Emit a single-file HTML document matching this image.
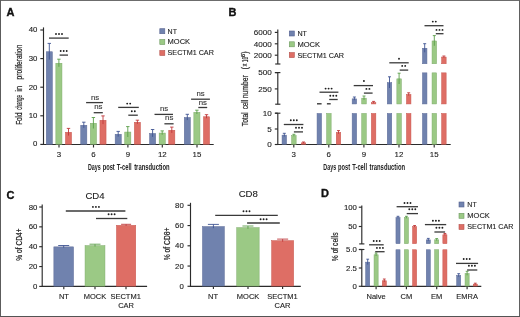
<!DOCTYPE html>
<html><head><meta charset="utf-8"><style>
html,body{margin:0;padding:0;background:#fff;}
#fig{position:relative;width:520px;height:317px;overflow:hidden;background:#fff;}
svg{position:absolute;left:0;top:0;will-change:transform;}
svg text{font-family:"Liberation Sans",sans-serif;}
</style></head><body>
<div id="fig">
<svg width="520" height="317" viewBox="0 0 520 317">
<text x="6.6" y="15.8" font-size="11" text-anchor="start" font-weight="bold" fill="#111" stroke="#111" stroke-width="0.35" >A</text>
<line x1="43.50" y1="27.40" x2="43.50" y2="145.00" stroke="#2b2b2b" stroke-width="1.15"/>
<line x1="43.00" y1="144.50" x2="213.70" y2="144.50" stroke="#2b2b2b" stroke-width="1.15"/>
<line x1="40.30" y1="144.40" x2="43.50" y2="144.40" stroke="#2b2b2b" stroke-width="1.15"/>
<text x="37.4" y="146.10" font-size="7.8" text-anchor="end" font-weight="normal" fill="#222" stroke="#222" stroke-width="0.12" >0</text>
<line x1="40.30" y1="115.80" x2="43.50" y2="115.80" stroke="#2b2b2b" stroke-width="1.15"/>
<text x="37.4" y="118.25" font-size="7.8" text-anchor="end" font-weight="normal" fill="#222" stroke="#222" stroke-width="0.12" >10</text>
<line x1="40.30" y1="87.20" x2="43.50" y2="87.20" stroke="#2b2b2b" stroke-width="1.15"/>
<text x="37.4" y="89.65" font-size="7.8" text-anchor="end" font-weight="normal" fill="#222" stroke="#222" stroke-width="0.12" >20</text>
<line x1="40.30" y1="58.60" x2="43.50" y2="58.60" stroke="#2b2b2b" stroke-width="1.15"/>
<text x="37.4" y="61.05" font-size="7.8" text-anchor="end" font-weight="normal" fill="#222" stroke="#222" stroke-width="0.12" >30</text>
<line x1="40.30" y1="30.00" x2="43.50" y2="30.00" stroke="#2b2b2b" stroke-width="1.15"/>
<text x="37.4" y="32.45" font-size="7.8" text-anchor="end" font-weight="normal" fill="#222" stroke="#222" stroke-width="0.12" >40</text>
<line x1="59.00" y1="144.50" x2="59.00" y2="147.50" stroke="#2b2b2b" stroke-width="1.15"/>
<text x="59.0" y="157.2" font-size="7.9" text-anchor="middle" font-weight="normal" fill="#222" stroke="#222" stroke-width="0.12" >3</text>
<line x1="93.50" y1="144.50" x2="93.50" y2="147.50" stroke="#2b2b2b" stroke-width="1.15"/>
<text x="93.5" y="157.2" font-size="7.9" text-anchor="middle" font-weight="normal" fill="#222" stroke="#222" stroke-width="0.12" >6</text>
<line x1="127.90" y1="144.50" x2="127.90" y2="147.50" stroke="#2b2b2b" stroke-width="1.15"/>
<text x="127.9" y="157.2" font-size="7.9" text-anchor="middle" font-weight="normal" fill="#222" stroke="#222" stroke-width="0.12" >9</text>
<line x1="162.30" y1="144.50" x2="162.30" y2="147.50" stroke="#2b2b2b" stroke-width="1.15"/>
<text x="162.3" y="157.2" font-size="7.9" text-anchor="middle" font-weight="normal" fill="#222" stroke="#222" stroke-width="0.12" >12</text>
<line x1="197.00" y1="144.50" x2="197.00" y2="147.50" stroke="#2b2b2b" stroke-width="1.15"/>
<text x="197.0" y="157.2" font-size="7.9" text-anchor="middle" font-weight="normal" fill="#222" stroke="#222" stroke-width="0.12" >15</text>
<rect x="46.25" y="51.75" width="6.10" height="92.50" fill="#7082ae" stroke="#5d6b98" stroke-width="0.5"/>
<line x1="49.30" y1="43.40" x2="49.30" y2="59.60" stroke="#3f5592" stroke-width="0.9"/>
<line x1="47.60" y1="43.40" x2="51.00" y2="43.40" stroke="#3f5592" stroke-width="0.9"/>
<rect x="55.85" y="63.25" width="6.10" height="81.00" fill="#9bc985" stroke="#7daa68" stroke-width="0.5"/>
<line x1="58.90" y1="59.20" x2="58.90" y2="66.80" stroke="#5a9e48" stroke-width="0.9"/>
<line x1="57.20" y1="59.20" x2="60.60" y2="59.20" stroke="#5a9e48" stroke-width="0.9"/>
<rect x="65.45" y="132.25" width="6.10" height="12.00" fill="#de6e65" stroke="#c8564f" stroke-width="0.5"/>
<line x1="68.50" y1="128.40" x2="68.50" y2="135.60" stroke="#c0383a" stroke-width="0.9"/>
<line x1="66.80" y1="128.40" x2="70.20" y2="128.40" stroke="#c0383a" stroke-width="0.9"/>
<rect x="80.75" y="125.25" width="6.10" height="19.00" fill="#7082ae" stroke="#5d6b98" stroke-width="0.5"/>
<line x1="83.80" y1="122.20" x2="83.80" y2="127.80" stroke="#3f5592" stroke-width="0.9"/>
<line x1="82.10" y1="122.20" x2="85.50" y2="122.20" stroke="#3f5592" stroke-width="0.9"/>
<rect x="90.35" y="123.25" width="6.10" height="21.00" fill="#9bc985" stroke="#7daa68" stroke-width="0.5"/>
<line x1="93.40" y1="117.50" x2="93.40" y2="128.50" stroke="#5a9e48" stroke-width="0.9"/>
<line x1="91.70" y1="117.50" x2="95.10" y2="117.50" stroke="#5a9e48" stroke-width="0.9"/>
<rect x="99.95" y="120.25" width="6.10" height="24.00" fill="#de6e65" stroke="#c8564f" stroke-width="0.5"/>
<line x1="103.00" y1="115.90" x2="103.00" y2="124.10" stroke="#c0383a" stroke-width="0.9"/>
<line x1="101.30" y1="115.90" x2="104.70" y2="115.90" stroke="#c0383a" stroke-width="0.9"/>
<rect x="115.15" y="134.25" width="6.10" height="10.00" fill="#7082ae" stroke="#5d6b98" stroke-width="0.5"/>
<line x1="118.20" y1="131.40" x2="118.20" y2="136.60" stroke="#3f5592" stroke-width="0.9"/>
<line x1="116.50" y1="131.40" x2="119.90" y2="131.40" stroke="#3f5592" stroke-width="0.9"/>
<rect x="124.75" y="132.05" width="6.10" height="12.20" fill="#9bc985" stroke="#7daa68" stroke-width="0.5"/>
<line x1="127.80" y1="126.60" x2="127.80" y2="137.00" stroke="#5a9e48" stroke-width="0.9"/>
<line x1="126.10" y1="126.60" x2="129.50" y2="126.60" stroke="#5a9e48" stroke-width="0.9"/>
<rect x="134.35" y="122.25" width="6.10" height="22.00" fill="#de6e65" stroke="#c8564f" stroke-width="0.5"/>
<line x1="137.40" y1="120.20" x2="137.40" y2="123.80" stroke="#c0383a" stroke-width="0.9"/>
<line x1="135.70" y1="120.20" x2="139.10" y2="120.20" stroke="#c0383a" stroke-width="0.9"/>
<rect x="149.55" y="133.45" width="6.10" height="10.80" fill="#7082ae" stroke="#5d6b98" stroke-width="0.5"/>
<line x1="152.60" y1="129.50" x2="152.60" y2="136.90" stroke="#3f5592" stroke-width="0.9"/>
<line x1="150.90" y1="129.50" x2="154.30" y2="129.50" stroke="#3f5592" stroke-width="0.9"/>
<rect x="159.15" y="133.05" width="6.10" height="11.20" fill="#9bc985" stroke="#7daa68" stroke-width="0.5"/>
<line x1="162.20" y1="130.90" x2="162.20" y2="134.70" stroke="#5a9e48" stroke-width="0.9"/>
<line x1="160.50" y1="130.90" x2="163.90" y2="130.90" stroke="#5a9e48" stroke-width="0.9"/>
<rect x="168.75" y="130.25" width="6.10" height="14.00" fill="#de6e65" stroke="#c8564f" stroke-width="0.5"/>
<line x1="171.80" y1="127.10" x2="171.80" y2="132.90" stroke="#c0383a" stroke-width="0.9"/>
<line x1="170.10" y1="127.10" x2="173.50" y2="127.10" stroke="#c0383a" stroke-width="0.9"/>
<rect x="184.25" y="117.45" width="6.10" height="26.80" fill="#7082ae" stroke="#5d6b98" stroke-width="0.5"/>
<line x1="187.30" y1="114.30" x2="187.30" y2="120.10" stroke="#3f5592" stroke-width="0.9"/>
<line x1="185.60" y1="114.30" x2="189.00" y2="114.30" stroke="#3f5592" stroke-width="0.9"/>
<rect x="193.85" y="112.35" width="6.10" height="31.90" fill="#9bc985" stroke="#7daa68" stroke-width="0.5"/>
<line x1="196.90" y1="110.20" x2="196.90" y2="114.00" stroke="#5a9e48" stroke-width="0.9"/>
<line x1="195.20" y1="110.20" x2="198.60" y2="110.20" stroke="#5a9e48" stroke-width="0.9"/>
<rect x="203.45" y="116.75" width="6.10" height="27.50" fill="#de6e65" stroke="#c8564f" stroke-width="0.5"/>
<line x1="206.50" y1="114.70" x2="206.50" y2="118.30" stroke="#c0383a" stroke-width="0.9"/>
<line x1="204.80" y1="114.70" x2="208.20" y2="114.70" stroke="#c0383a" stroke-width="0.9"/>
<line x1="49.00" y1="38.10" x2="68.70" y2="38.10" stroke="#3a3a3a" stroke-width="1.3"/>
<circle cx="56.00" cy="34.00" r="0.95" fill="#1e1e1e"/>
<circle cx="59.00" cy="34.00" r="0.95" fill="#1e1e1e"/>
<circle cx="62.00" cy="34.00" r="0.95" fill="#1e1e1e"/>
<line x1="59.60" y1="55.10" x2="68.00" y2="55.10" stroke="#3a3a3a" stroke-width="1.3"/>
<circle cx="60.70" cy="51.00" r="0.95" fill="#1e1e1e"/>
<circle cx="63.70" cy="51.00" r="0.95" fill="#1e1e1e"/>
<circle cx="66.70" cy="51.00" r="0.95" fill="#1e1e1e"/>
<line x1="86.10" y1="102.60" x2="103.00" y2="102.60" stroke="#3a3a3a" stroke-width="1.3"/>
<text x="95.1" y="99.6" font-size="7.8" text-anchor="middle" font-weight="normal" fill="#333" stroke="#333" stroke-width="0.12" >ns</text>
<line x1="93.70" y1="112.70" x2="102.80" y2="112.70" stroke="#3a3a3a" stroke-width="1.3"/>
<text x="98.4" y="109.2" font-size="7.8" text-anchor="middle" font-weight="normal" fill="#333" stroke="#333" stroke-width="0.12" >ns</text>
<line x1="118.20" y1="107.40" x2="138.80" y2="107.40" stroke="#3a3a3a" stroke-width="1.3"/>
<circle cx="127.20" cy="103.60" r="0.95" fill="#1e1e1e"/>
<circle cx="130.20" cy="103.60" r="0.95" fill="#1e1e1e"/>
<line x1="128.30" y1="115.20" x2="137.80" y2="115.20" stroke="#3a3a3a" stroke-width="1.3"/>
<circle cx="131.80" cy="111.20" r="0.95" fill="#1e1e1e"/>
<circle cx="134.80" cy="111.20" r="0.95" fill="#1e1e1e"/>
<line x1="154.50" y1="114.40" x2="173.00" y2="114.40" stroke="#3a3a3a" stroke-width="1.3"/>
<text x="164.1" y="110.8" font-size="7.8" text-anchor="middle" font-weight="normal" fill="#333" stroke="#333" stroke-width="0.12" >ns</text>
<line x1="164.40" y1="123.80" x2="173.60" y2="123.80" stroke="#3a3a3a" stroke-width="1.3"/>
<text x="169.2" y="119.7" font-size="7.8" text-anchor="middle" font-weight="normal" fill="#333" stroke="#333" stroke-width="0.12" >ns</text>
<line x1="191.10" y1="99.20" x2="209.90" y2="99.20" stroke="#3a3a3a" stroke-width="1.3"/>
<text x="200.5" y="95.8" font-size="7.8" text-anchor="middle" font-weight="normal" fill="#333" stroke="#333" stroke-width="0.12" >ns</text>
<line x1="198.30" y1="107.50" x2="207.20" y2="107.50" stroke="#3a3a3a" stroke-width="1.3"/>
<text x="202.8" y="105.0" font-size="7.8" text-anchor="middle" font-weight="normal" fill="#333" stroke="#333" stroke-width="0.12" >ns</text>
<rect x="159.80" y="28.70" width="5.00" height="5.00" fill="#7082ae" stroke="#56628f" stroke-width="0.6"/>
<text x="167.55" y="33.60" font-size="7.4" fill="#222" stroke="#222" stroke-width="0.12" textLength="9.40" lengthAdjust="spacingAndGlyphs">NT</text>
<rect x="159.80" y="39.50" width="5.00" height="5.00" fill="#9bc985" stroke="#6f9a62" stroke-width="0.6"/>
<text x="167.55" y="44.40" font-size="7.4" fill="#222" stroke="#222" stroke-width="0.12" textLength="22.60" lengthAdjust="spacingAndGlyphs">MOCK</text>
<rect x="159.80" y="50.50" width="5.00" height="5.00" fill="#de6e65" stroke="#b4524d" stroke-width="0.6"/>
<text x="167.55" y="55.40" font-size="7.4" fill="#222" stroke="#222" stroke-width="0.12" textLength="46.30" lengthAdjust="spacingAndGlyphs">SECTM1 CAR</text>
<text x="87.95" y="170.2" font-size="8.4" font-weight="bold" stroke="#222" stroke-width="0.0" textLength="12.80" lengthAdjust="spacingAndGlyphs" fill="#222">Days</text>
<text x="102.65" y="170.2" font-size="8.4" font-weight="bold" stroke="#222" stroke-width="0.0" textLength="12.10" lengthAdjust="spacingAndGlyphs" fill="#222">post</text>
<text x="116.85" y="170.2" font-size="8.4" font-weight="bold" stroke="#222" stroke-width="0.0" textLength="14.80" lengthAdjust="spacingAndGlyphs" fill="#222">T-cell</text>
<text x="134.15" y="170.2" font-size="8.4" font-weight="bold" stroke="#222" stroke-width="0.0" textLength="35.50" lengthAdjust="spacingAndGlyphs" fill="#222">transduction</text>
<text transform="translate(22.1,124.85) rotate(-90)" x="0" y="0" font-size="8.4" font-weight="normal" stroke="#222" stroke-width="0.2" textLength="12.40" lengthAdjust="spacingAndGlyphs" fill="#222">Fold</text>
<text transform="translate(22.1,109.85) rotate(-90)" x="0" y="0" font-size="8.4" font-weight="normal" stroke="#222" stroke-width="0.2" textLength="15.00" lengthAdjust="spacingAndGlyphs" fill="#222">change</text>
<text transform="translate(22.1,91.75) rotate(-90)" x="0" y="0" font-size="8.4" font-weight="normal" stroke="#222" stroke-width="0.2" textLength="6.10" lengthAdjust="spacingAndGlyphs" fill="#222">in</text>
<text transform="translate(22.1,79.45) rotate(-90)" x="0" y="0" font-size="8.4" font-weight="normal" stroke="#222" stroke-width="0.2" textLength="34.80" lengthAdjust="spacingAndGlyphs" fill="#222">proliferation</text>
<text x="228.6" y="15.8" font-size="11" text-anchor="start" font-weight="bold" fill="#111" stroke="#111" stroke-width="0.35" >B</text>
<line x1="277.80" y1="29.40" x2="277.80" y2="64.00" stroke="#2b2b2b" stroke-width="1.15"/>
<line x1="275.20" y1="64.00" x2="280.40" y2="64.00" stroke="#2b2b2b" stroke-width="1.15"/>
<line x1="277.80" y1="72.60" x2="277.80" y2="104.20" stroke="#2b2b2b" stroke-width="1.15"/>
<line x1="275.20" y1="72.60" x2="280.40" y2="72.60" stroke="#2b2b2b" stroke-width="1.15"/>
<line x1="275.20" y1="104.20" x2="280.40" y2="104.20" stroke="#2b2b2b" stroke-width="1.15"/>
<line x1="277.80" y1="113.20" x2="277.80" y2="145.00" stroke="#2b2b2b" stroke-width="1.15"/>
<line x1="275.20" y1="113.20" x2="280.40" y2="113.20" stroke="#2b2b2b" stroke-width="1.15"/>
<line x1="277.30" y1="144.50" x2="450.70" y2="144.50" stroke="#2b2b2b" stroke-width="1.15"/>
<line x1="274.80" y1="32.40" x2="277.80" y2="32.40" stroke="#2b2b2b" stroke-width="1.15"/>
<text x="271.7" y="35.20" font-size="8.1" text-anchor="end" font-weight="normal" fill="#222" stroke="#222" stroke-width="0.12" >6000</text>
<line x1="274.80" y1="43.80" x2="277.80" y2="43.80" stroke="#2b2b2b" stroke-width="1.15"/>
<text x="271.7" y="46.60" font-size="8.1" text-anchor="end" font-weight="normal" fill="#222" stroke="#222" stroke-width="0.12" >4000</text>
<line x1="274.80" y1="55.20" x2="277.80" y2="55.20" stroke="#2b2b2b" stroke-width="1.15"/>
<text x="271.7" y="58.00" font-size="8.1" text-anchor="end" font-weight="normal" fill="#222" stroke="#222" stroke-width="0.12" >2000</text>
<line x1="274.80" y1="72.60" x2="277.80" y2="72.60" stroke="#2b2b2b" stroke-width="1.15"/>
<text x="271.7" y="75.40" font-size="8.1" text-anchor="end" font-weight="normal" fill="#222" stroke="#222" stroke-width="0.12" >500</text>
<line x1="274.80" y1="88.90" x2="277.80" y2="88.90" stroke="#2b2b2b" stroke-width="1.15"/>
<text x="271.7" y="91.70" font-size="8.1" text-anchor="end" font-weight="normal" fill="#222" stroke="#222" stroke-width="0.12" >250</text>
<line x1="274.80" y1="113.20" x2="277.80" y2="113.20" stroke="#2b2b2b" stroke-width="1.15"/>
<text x="271.7" y="116.00" font-size="8.1" text-anchor="end" font-weight="normal" fill="#222" stroke="#222" stroke-width="0.12" >10</text>
<line x1="274.80" y1="129.00" x2="277.80" y2="129.00" stroke="#2b2b2b" stroke-width="1.15"/>
<text x="271.7" y="131.80" font-size="8.1" text-anchor="end" font-weight="normal" fill="#222" stroke="#222" stroke-width="0.12" >5</text>
<line x1="274.80" y1="144.50" x2="277.80" y2="144.50" stroke="#2b2b2b" stroke-width="1.15"/>
<text x="271.7" y="147.30" font-size="8.1" text-anchor="end" font-weight="normal" fill="#222" stroke="#222" stroke-width="0.12" >0</text>
<line x1="293.80" y1="144.50" x2="293.80" y2="147.50" stroke="#2b2b2b" stroke-width="1.15"/>
<text x="293.8" y="157.2" font-size="7.9" text-anchor="middle" font-weight="normal" fill="#222" stroke="#222" stroke-width="0.12" >3</text>
<line x1="328.80" y1="144.50" x2="328.80" y2="147.50" stroke="#2b2b2b" stroke-width="1.15"/>
<text x="328.8" y="157.2" font-size="7.9" text-anchor="middle" font-weight="normal" fill="#222" stroke="#222" stroke-width="0.12" >6</text>
<line x1="363.90" y1="144.50" x2="363.90" y2="147.50" stroke="#2b2b2b" stroke-width="1.15"/>
<text x="363.9" y="157.2" font-size="7.9" text-anchor="middle" font-weight="normal" fill="#222" stroke="#222" stroke-width="0.12" >9</text>
<line x1="399.00" y1="144.50" x2="399.00" y2="147.50" stroke="#2b2b2b" stroke-width="1.15"/>
<text x="399.0" y="157.2" font-size="7.9" text-anchor="middle" font-weight="normal" fill="#222" stroke="#222" stroke-width="0.12" >12</text>
<line x1="434.20" y1="144.50" x2="434.20" y2="147.50" stroke="#2b2b2b" stroke-width="1.15"/>
<text x="434.2" y="157.2" font-size="7.9" text-anchor="middle" font-weight="normal" fill="#222" stroke="#222" stroke-width="0.12" >15</text>
<rect x="282.05" y="135.15" width="4.50" height="9.10" fill="#7082ae" stroke="#5d6b98" stroke-width="0.5"/>
<line x1="284.30" y1="133.30" x2="284.30" y2="136.50" stroke="#3f5592" stroke-width="0.9"/>
<line x1="282.80" y1="133.30" x2="285.80" y2="133.30" stroke="#3f5592" stroke-width="0.9"/>
<rect x="291.65" y="135.55" width="4.50" height="8.70" fill="#9bc985" stroke="#7daa68" stroke-width="0.5"/>
<line x1="293.90" y1="134.30" x2="293.90" y2="136.30" stroke="#5a9e48" stroke-width="0.9"/>
<line x1="292.40" y1="134.30" x2="295.40" y2="134.30" stroke="#5a9e48" stroke-width="0.9"/>
<rect x="301.25" y="142.85" width="4.50" height="1.40" fill="#de6e65" stroke="#c8564f" stroke-width="0.5"/>
<line x1="303.50" y1="142.00" x2="303.50" y2="143.20" stroke="#c0383a" stroke-width="0.9"/>
<line x1="302.00" y1="142.00" x2="305.00" y2="142.00" stroke="#c0383a" stroke-width="0.9"/>
<rect x="317.05" y="113.45" width="4.50" height="30.80" fill="#7082ae" stroke="#5d6b98" stroke-width="0.5"/>
<rect x="326.65" y="113.45" width="4.50" height="30.80" fill="#9bc985" stroke="#7daa68" stroke-width="0.5"/>
<rect x="336.25" y="132.45" width="4.50" height="11.80" fill="#de6e65" stroke="#c8564f" stroke-width="0.5"/>
<line x1="338.50" y1="130.60" x2="338.50" y2="133.80" stroke="#c0383a" stroke-width="0.9"/>
<line x1="337.00" y1="130.60" x2="340.00" y2="130.60" stroke="#c0383a" stroke-width="0.9"/>
<rect x="352.15" y="113.45" width="4.50" height="30.80" fill="#7082ae" stroke="#5d6b98" stroke-width="0.5"/>
<rect x="352.15" y="98.85" width="4.50" height="5.10" fill="#7082ae" stroke="#5d6b98" stroke-width="0.5"/>
<line x1="354.40" y1="97.00" x2="354.40" y2="100.20" stroke="#3f5592" stroke-width="0.9"/>
<line x1="352.90" y1="97.00" x2="355.90" y2="97.00" stroke="#3f5592" stroke-width="0.9"/>
<rect x="361.75" y="113.45" width="4.50" height="30.80" fill="#9bc985" stroke="#7daa68" stroke-width="0.5"/>
<rect x="361.75" y="98.15" width="4.50" height="5.80" fill="#9bc985" stroke="#7daa68" stroke-width="0.5"/>
<line x1="364.00" y1="96.00" x2="364.00" y2="99.80" stroke="#5a9e48" stroke-width="0.9"/>
<line x1="362.50" y1="96.00" x2="365.50" y2="96.00" stroke="#5a9e48" stroke-width="0.9"/>
<rect x="371.35" y="113.45" width="4.50" height="30.80" fill="#de6e65" stroke="#c8564f" stroke-width="0.5"/>
<rect x="371.35" y="102.55" width="4.50" height="1.40" fill="#de6e65" stroke="#c8564f" stroke-width="0.5"/>
<line x1="373.60" y1="101.40" x2="373.60" y2="103.20" stroke="#c0383a" stroke-width="0.9"/>
<line x1="372.10" y1="101.40" x2="375.10" y2="101.40" stroke="#c0383a" stroke-width="0.9"/>
<rect x="387.25" y="113.45" width="4.50" height="30.80" fill="#7082ae" stroke="#5d6b98" stroke-width="0.5"/>
<rect x="387.25" y="82.65" width="4.50" height="21.30" fill="#7082ae" stroke="#5d6b98" stroke-width="0.5"/>
<line x1="389.50" y1="76.80" x2="389.50" y2="88.00" stroke="#3f5592" stroke-width="0.9"/>
<line x1="388.00" y1="76.80" x2="391.00" y2="76.80" stroke="#3f5592" stroke-width="0.9"/>
<rect x="396.85" y="113.45" width="4.50" height="30.80" fill="#9bc985" stroke="#7daa68" stroke-width="0.5"/>
<rect x="396.85" y="78.85" width="4.50" height="25.10" fill="#9bc985" stroke="#7daa68" stroke-width="0.5"/>
<line x1="399.10" y1="73.20" x2="399.10" y2="84.00" stroke="#5a9e48" stroke-width="0.9"/>
<line x1="397.60" y1="73.20" x2="400.60" y2="73.20" stroke="#5a9e48" stroke-width="0.9"/>
<rect x="406.45" y="113.45" width="4.50" height="30.80" fill="#de6e65" stroke="#c8564f" stroke-width="0.5"/>
<rect x="406.45" y="94.45" width="4.50" height="9.50" fill="#de6e65" stroke="#c8564f" stroke-width="0.5"/>
<line x1="408.70" y1="92.80" x2="408.70" y2="95.60" stroke="#c0383a" stroke-width="0.9"/>
<line x1="407.20" y1="92.80" x2="410.20" y2="92.80" stroke="#c0383a" stroke-width="0.9"/>
<rect x="422.45" y="113.45" width="4.50" height="30.80" fill="#7082ae" stroke="#5d6b98" stroke-width="0.5"/>
<rect x="422.45" y="72.85" width="4.50" height="31.10" fill="#7082ae" stroke="#5d6b98" stroke-width="0.5"/>
<rect x="422.45" y="48.25" width="4.50" height="15.50" fill="#7082ae" stroke="#5d6b98" stroke-width="0.5"/>
<line x1="424.70" y1="43.70" x2="424.70" y2="52.30" stroke="#3f5592" stroke-width="0.9"/>
<line x1="423.20" y1="43.70" x2="426.20" y2="43.70" stroke="#3f5592" stroke-width="0.9"/>
<rect x="432.05" y="113.45" width="4.50" height="30.80" fill="#9bc985" stroke="#7daa68" stroke-width="0.5"/>
<rect x="432.05" y="72.85" width="4.50" height="31.10" fill="#9bc985" stroke="#7daa68" stroke-width="0.5"/>
<rect x="432.05" y="40.95" width="4.50" height="22.80" fill="#9bc985" stroke="#7daa68" stroke-width="0.5"/>
<line x1="434.30" y1="35.60" x2="434.30" y2="45.80" stroke="#5a9e48" stroke-width="0.9"/>
<line x1="432.80" y1="35.60" x2="435.80" y2="35.60" stroke="#5a9e48" stroke-width="0.9"/>
<rect x="441.65" y="113.45" width="4.50" height="30.80" fill="#de6e65" stroke="#c8564f" stroke-width="0.5"/>
<rect x="441.65" y="72.85" width="4.50" height="31.10" fill="#de6e65" stroke="#c8564f" stroke-width="0.5"/>
<rect x="441.65" y="57.05" width="4.50" height="6.70" fill="#de6e65" stroke="#c8564f" stroke-width="0.5"/>
<line x1="443.90" y1="56.00" x2="443.90" y2="57.60" stroke="#c0383a" stroke-width="0.9"/>
<line x1="442.40" y1="56.00" x2="445.40" y2="56.00" stroke="#c0383a" stroke-width="0.9"/>
<rect x="317.0" y="103.1" width="4.6" height="1.4" fill="#3a3a3a"/>
<rect x="326.9" y="103.1" width="3.8" height="1.4" fill="#3a3a3a"/>
<line x1="283.80" y1="124.50" x2="303.40" y2="124.50" stroke="#3a3a3a" stroke-width="1.3"/>
<circle cx="290.80" cy="120.30" r="0.95" fill="#1e1e1e"/>
<circle cx="293.80" cy="120.30" r="0.95" fill="#1e1e1e"/>
<circle cx="296.80" cy="120.30" r="0.95" fill="#1e1e1e"/>
<line x1="293.90" y1="131.90" x2="303.00" y2="131.90" stroke="#3a3a3a" stroke-width="1.3"/>
<circle cx="296.00" cy="127.70" r="0.95" fill="#1e1e1e"/>
<circle cx="299.00" cy="127.70" r="0.95" fill="#1e1e1e"/>
<circle cx="302.00" cy="127.70" r="0.95" fill="#1e1e1e"/>
<line x1="319.50" y1="92.20" x2="338.40" y2="92.20" stroke="#3a3a3a" stroke-width="1.3"/>
<circle cx="325.60" cy="88.60" r="0.95" fill="#1e1e1e"/>
<circle cx="328.60" cy="88.60" r="0.95" fill="#1e1e1e"/>
<circle cx="331.60" cy="88.60" r="0.95" fill="#1e1e1e"/>
<line x1="329.20" y1="99.50" x2="337.70" y2="99.50" stroke="#3a3a3a" stroke-width="1.3"/>
<circle cx="330.30" cy="95.80" r="0.95" fill="#1e1e1e"/>
<circle cx="333.30" cy="95.80" r="0.95" fill="#1e1e1e"/>
<circle cx="336.30" cy="95.80" r="0.95" fill="#1e1e1e"/>
<line x1="353.70" y1="85.60" x2="373.00" y2="85.60" stroke="#3a3a3a" stroke-width="1.3"/>
<circle cx="363.90" cy="81.00" r="0.95" fill="#1e1e1e"/>
<line x1="363.90" y1="93.10" x2="372.60" y2="93.10" stroke="#3a3a3a" stroke-width="1.3"/>
<circle cx="366.40" cy="88.90" r="0.95" fill="#1e1e1e"/>
<circle cx="369.40" cy="88.90" r="0.95" fill="#1e1e1e"/>
<line x1="389.30" y1="62.80" x2="408.70" y2="62.80" stroke="#3a3a3a" stroke-width="1.3"/>
<circle cx="399.00" cy="58.70" r="0.95" fill="#1e1e1e"/>
<line x1="399.70" y1="70.10" x2="408.20" y2="70.10" stroke="#3a3a3a" stroke-width="1.3"/>
<circle cx="402.20" cy="65.90" r="0.95" fill="#1e1e1e"/>
<circle cx="405.20" cy="65.90" r="0.95" fill="#1e1e1e"/>
<line x1="424.50" y1="25.70" x2="443.50" y2="25.70" stroke="#3a3a3a" stroke-width="1.3"/>
<circle cx="432.80" cy="21.60" r="0.95" fill="#1e1e1e"/>
<circle cx="435.80" cy="21.60" r="0.95" fill="#1e1e1e"/>
<line x1="435.80" y1="33.70" x2="443.50" y2="33.70" stroke="#3a3a3a" stroke-width="1.3"/>
<circle cx="436.50" cy="29.90" r="0.95" fill="#1e1e1e"/>
<circle cx="439.50" cy="29.90" r="0.95" fill="#1e1e1e"/>
<circle cx="442.50" cy="29.90" r="0.95" fill="#1e1e1e"/>
<rect x="289.30" y="31.00" width="5.00" height="5.00" fill="#7082ae" stroke="#56628f" stroke-width="0.6"/>
<text x="297.45" y="35.90" font-size="7.4" fill="#222" stroke="#222" stroke-width="0.12" textLength="9.50" lengthAdjust="spacingAndGlyphs">NT</text>
<rect x="289.30" y="41.80" width="5.00" height="5.00" fill="#9bc985" stroke="#6f9a62" stroke-width="0.6"/>
<text x="297.45" y="46.70" font-size="7.4" fill="#222" stroke="#222" stroke-width="0.12" textLength="22.70" lengthAdjust="spacingAndGlyphs">MOCK</text>
<rect x="289.30" y="52.60" width="5.00" height="5.00" fill="#de6e65" stroke="#b4524d" stroke-width="0.6"/>
<text x="297.45" y="57.50" font-size="7.4" fill="#222" stroke="#222" stroke-width="0.12" textLength="46.60" lengthAdjust="spacingAndGlyphs">SECTM1 CAR</text>
<text x="323.35" y="170.2" font-size="8.4" font-weight="bold" stroke="#222" stroke-width="0.0" textLength="12.80" lengthAdjust="spacingAndGlyphs" fill="#222">Days</text>
<text x="338.05" y="170.2" font-size="8.4" font-weight="bold" stroke="#222" stroke-width="0.0" textLength="12.10" lengthAdjust="spacingAndGlyphs" fill="#222">post</text>
<text x="352.25" y="170.2" font-size="8.4" font-weight="bold" stroke="#222" stroke-width="0.0" textLength="14.80" lengthAdjust="spacingAndGlyphs" fill="#222">T-cell</text>
<text x="369.55" y="170.2" font-size="8.4" font-weight="bold" stroke="#222" stroke-width="0.0" textLength="35.50" lengthAdjust="spacingAndGlyphs" fill="#222">transduction</text>
<text transform="translate(247.9,126.15) rotate(-90)" x="0" y="0" font-size="8.4" font-weight="normal" stroke="#222" stroke-width="0.2" textLength="13.90" lengthAdjust="spacingAndGlyphs" fill="#222">Total</text>
<text transform="translate(247.9,108.95) rotate(-90)" x="0" y="0" font-size="8.4" font-weight="normal" stroke="#222" stroke-width="0.2" textLength="8.90" lengthAdjust="spacingAndGlyphs" fill="#222">cell</text>
<text transform="translate(247.9,98.25) rotate(-90)" x="0" y="0" font-size="8.4" font-weight="normal" stroke="#222" stroke-width="0.2" textLength="23.00" lengthAdjust="spacingAndGlyphs" fill="#222">number</text>
<text transform="translate(247.9,69.60) rotate(-90)" x="0" y="0" font-size="8.4" font-weight="normal" stroke="#222" stroke-width="0.2" textLength="2.60" lengthAdjust="spacingAndGlyphs" fill="#222">(</text>
<text transform="translate(247.9,66.60) rotate(-90)" x="0" y="0" font-size="8.4" font-weight="normal" stroke="#222" stroke-width="0.2" textLength="3.00" lengthAdjust="spacingAndGlyphs" fill="#222">×</text>
<text transform="translate(247.9,62.20) rotate(-90)" x="0" y="0" font-size="8.4" font-weight="normal" stroke="#222" stroke-width="0.2" textLength="5.50" lengthAdjust="spacingAndGlyphs" fill="#222">10</text>
<text transform="translate(247.9,53.80) rotate(-90)" x="0" y="0" font-size="8.4" font-weight="normal" stroke="#222" stroke-width="0.2" textLength="2.40" lengthAdjust="spacingAndGlyphs" fill="#222">)</text>
<text transform="translate(244.5,57.20) rotate(-90)" x="0" y="0" font-size="5.9" font-weight="normal" stroke="#222" stroke-width="0.2" textLength="3.50" lengthAdjust="spacingAndGlyphs" fill="#222">6</text>
<text x="6.6" y="198.9" font-size="11" text-anchor="start" font-weight="bold" fill="#111" stroke="#111" stroke-width="0.35" >C</text>
<line x1="42.20" y1="204.40" x2="42.20" y2="286.90" stroke="#2b2b2b" stroke-width="1.15"/>
<line x1="41.70" y1="286.40" x2="147.10" y2="286.40" stroke="#2b2b2b" stroke-width="1.15"/>
<line x1="39.20" y1="286.40" x2="42.20" y2="286.40" stroke="#2b2b2b" stroke-width="1.15"/>
<text x="37.4" y="289.00" font-size="7.8" text-anchor="end" font-weight="normal" fill="#222" stroke="#222" stroke-width="0.12" >0</text>
<line x1="39.20" y1="266.55" x2="42.20" y2="266.55" stroke="#2b2b2b" stroke-width="1.15"/>
<text x="37.4" y="269.15" font-size="7.8" text-anchor="end" font-weight="normal" fill="#222" stroke="#222" stroke-width="0.12" >20</text>
<line x1="39.20" y1="246.70" x2="42.20" y2="246.70" stroke="#2b2b2b" stroke-width="1.15"/>
<text x="37.4" y="249.30" font-size="7.8" text-anchor="end" font-weight="normal" fill="#222" stroke="#222" stroke-width="0.12" >40</text>
<line x1="39.20" y1="226.85" x2="42.20" y2="226.85" stroke="#2b2b2b" stroke-width="1.15"/>
<text x="37.4" y="229.45" font-size="7.8" text-anchor="end" font-weight="normal" fill="#222" stroke="#222" stroke-width="0.12" >60</text>
<line x1="39.20" y1="207.00" x2="42.20" y2="207.00" stroke="#2b2b2b" stroke-width="1.15"/>
<text x="37.4" y="209.60" font-size="7.8" text-anchor="end" font-weight="normal" fill="#222" stroke="#222" stroke-width="0.12" >80</text>
<line x1="63.80" y1="286.40" x2="63.80" y2="289.20" stroke="#2b2b2b" stroke-width="1.15"/>
<line x1="95.00" y1="286.40" x2="95.00" y2="289.20" stroke="#2b2b2b" stroke-width="1.15"/>
<line x1="126.00" y1="286.40" x2="126.00" y2="289.20" stroke="#2b2b2b" stroke-width="1.15"/>
<rect x="53.85" y="246.85" width="19.70" height="39.30" fill="#7082ae" stroke="#5d6b98" stroke-width="0.5"/>
<line x1="63.70" y1="245.50" x2="63.70" y2="247.70" stroke="#3f5592" stroke-width="0.9"/>
<line x1="58.20" y1="245.50" x2="69.20" y2="245.50" stroke="#3f5592" stroke-width="0.9"/>
<rect x="85.05" y="245.65" width="19.90" height="40.50" fill="#9bc985" stroke="#7daa68" stroke-width="0.5"/>
<line x1="95.00" y1="244.20" x2="95.00" y2="246.60" stroke="#5a9e48" stroke-width="0.9"/>
<line x1="89.50" y1="244.20" x2="100.50" y2="244.20" stroke="#5a9e48" stroke-width="0.9"/>
<rect x="116.45" y="225.35" width="19.30" height="60.80" fill="#de6e65" stroke="#c8564f" stroke-width="0.5"/>
<line x1="126.10" y1="224.30" x2="126.10" y2="225.90" stroke="#c0383a" stroke-width="0.9"/>
<line x1="121.10" y1="224.30" x2="131.10" y2="224.30" stroke="#c0383a" stroke-width="0.9"/>
<text x="63.9" y="299.3" font-size="7.5" text-anchor="middle" font-weight="normal" fill="#222" stroke="#222" stroke-width="0.12" >NT</text>
<text x="95.0" y="299.3" font-size="7.5" text-anchor="middle" font-weight="normal" fill="#222" stroke="#222" stroke-width="0.12" >MOCK</text>
<text x="125.6" y="299.3" font-size="7.5" text-anchor="middle" font-weight="normal" fill="#222" stroke="#222" stroke-width="0.12" >SECTM1</text>
<text x="126.1" y="307.7" font-size="7.5" text-anchor="middle" font-weight="normal" fill="#222" stroke="#222" stroke-width="0.12" >CAR</text>
<text x="95.0" y="198.8" font-size="9.6" text-anchor="middle" font-weight="normal" fill="#222" stroke="#222" stroke-width="0.12" >CD4</text>
<line x1="65.80" y1="211.00" x2="125.40" y2="211.00" stroke="#3a3a3a" stroke-width="1.3"/>
<circle cx="92.90" cy="206.90" r="0.95" fill="#1e1e1e"/>
<circle cx="95.90" cy="206.90" r="0.95" fill="#1e1e1e"/>
<circle cx="98.90" cy="206.90" r="0.95" fill="#1e1e1e"/>
<line x1="96.00" y1="218.50" x2="127.30" y2="218.50" stroke="#3a3a3a" stroke-width="1.3"/>
<circle cx="108.60" cy="214.20" r="0.95" fill="#1e1e1e"/>
<circle cx="111.60" cy="214.20" r="0.95" fill="#1e1e1e"/>
<circle cx="114.60" cy="214.20" r="0.95" fill="#1e1e1e"/>
<text transform="translate(22.3,260.7) rotate(-90)" x="0" y="0" font-size="8.4" font-weight="normal" stroke="#222" stroke-width="0.2" textLength="32.2" lengthAdjust="spacingAndGlyphs" fill="#222">% of CD4+</text>
<line x1="190.50" y1="202.80" x2="190.50" y2="286.80" stroke="#2b2b2b" stroke-width="1.15"/>
<line x1="190.00" y1="286.30" x2="300.80" y2="286.30" stroke="#2b2b2b" stroke-width="1.15"/>
<line x1="187.50" y1="286.30" x2="190.50" y2="286.30" stroke="#2b2b2b" stroke-width="1.15"/>
<text x="183.8" y="288.90" font-size="7.8" text-anchor="end" font-weight="normal" fill="#222" stroke="#222" stroke-width="0.12" >0</text>
<line x1="187.50" y1="266.05" x2="190.50" y2="266.05" stroke="#2b2b2b" stroke-width="1.15"/>
<text x="183.8" y="268.65" font-size="7.8" text-anchor="end" font-weight="normal" fill="#222" stroke="#222" stroke-width="0.12" >20</text>
<line x1="187.50" y1="245.80" x2="190.50" y2="245.80" stroke="#2b2b2b" stroke-width="1.15"/>
<text x="183.8" y="248.40" font-size="7.8" text-anchor="end" font-weight="normal" fill="#222" stroke="#222" stroke-width="0.12" >40</text>
<line x1="187.50" y1="225.55" x2="190.50" y2="225.55" stroke="#2b2b2b" stroke-width="1.15"/>
<text x="183.8" y="228.15" font-size="7.8" text-anchor="end" font-weight="normal" fill="#222" stroke="#222" stroke-width="0.12" >60</text>
<line x1="187.50" y1="205.30" x2="190.50" y2="205.30" stroke="#2b2b2b" stroke-width="1.15"/>
<text x="183.8" y="207.90" font-size="7.8" text-anchor="end" font-weight="normal" fill="#222" stroke="#222" stroke-width="0.12" >80</text>
<line x1="213.40" y1="286.30" x2="213.40" y2="289.10" stroke="#2b2b2b" stroke-width="1.15"/>
<line x1="248.00" y1="286.30" x2="248.00" y2="289.10" stroke="#2b2b2b" stroke-width="1.15"/>
<line x1="282.60" y1="286.30" x2="282.60" y2="289.10" stroke="#2b2b2b" stroke-width="1.15"/>
<rect x="202.45" y="226.55" width="21.90" height="59.50" fill="#7082ae" stroke="#5d6b98" stroke-width="0.5"/>
<line x1="213.40" y1="224.40" x2="213.40" y2="228.20" stroke="#3f5592" stroke-width="0.9"/>
<line x1="207.90" y1="224.40" x2="218.90" y2="224.40" stroke="#3f5592" stroke-width="0.9"/>
<rect x="236.75" y="227.65" width="22.40" height="58.40" fill="#9bc985" stroke="#7daa68" stroke-width="0.5"/>
<line x1="247.95" y1="226.00" x2="247.95" y2="228.80" stroke="#5a9e48" stroke-width="0.9"/>
<line x1="242.45" y1="226.00" x2="253.45" y2="226.00" stroke="#5a9e48" stroke-width="0.9"/>
<rect x="271.65" y="240.65" width="22.00" height="45.40" fill="#de6e65" stroke="#c8564f" stroke-width="0.5"/>
<line x1="282.65" y1="239.10" x2="282.65" y2="241.70" stroke="#c0383a" stroke-width="0.9"/>
<line x1="277.15" y1="239.10" x2="288.15" y2="239.10" stroke="#c0383a" stroke-width="0.9"/>
<text x="213.1" y="299.3" font-size="7.5" text-anchor="middle" font-weight="normal" fill="#222" stroke="#222" stroke-width="0.12" >NT</text>
<text x="248.1" y="299.3" font-size="7.5" text-anchor="middle" font-weight="normal" fill="#222" stroke="#222" stroke-width="0.12" >MOCK</text>
<text x="282.5" y="299.3" font-size="7.5" text-anchor="middle" font-weight="normal" fill="#222" stroke="#222" stroke-width="0.12" >SECTM1</text>
<text x="282.4" y="307.7" font-size="7.5" text-anchor="middle" font-weight="normal" fill="#222" stroke="#222" stroke-width="0.12" >CAR</text>
<text x="248.3" y="197.1" font-size="9.6" text-anchor="middle" font-weight="normal" fill="#222" stroke="#222" stroke-width="0.12" >CD8</text>
<line x1="215.20" y1="215.30" x2="277.80" y2="215.30" stroke="#3a3a3a" stroke-width="1.3"/>
<circle cx="243.50" cy="211.30" r="0.95" fill="#1e1e1e"/>
<circle cx="246.50" cy="211.30" r="0.95" fill="#1e1e1e"/>
<circle cx="249.50" cy="211.30" r="0.95" fill="#1e1e1e"/>
<line x1="247.10" y1="223.00" x2="279.80" y2="223.00" stroke="#3a3a3a" stroke-width="1.3"/>
<circle cx="260.60" cy="219.30" r="0.95" fill="#1e1e1e"/>
<circle cx="263.60" cy="219.30" r="0.95" fill="#1e1e1e"/>
<circle cx="266.60" cy="219.30" r="0.95" fill="#1e1e1e"/>
<text transform="translate(170.4,260.2) rotate(-90)" x="0" y="0" font-size="8.4" font-weight="normal" stroke="#222" stroke-width="0.2" textLength="32.6" lengthAdjust="spacingAndGlyphs" fill="#222">% of CD8+</text>
<text x="320.9" y="196.7" font-size="11" text-anchor="start" font-weight="bold" fill="#111" stroke="#111" stroke-width="0.35" >D</text>
<line x1="361.80" y1="205.60" x2="361.80" y2="243.90" stroke="#2b2b2b" stroke-width="1.15"/>
<line x1="359.20" y1="243.90" x2="364.40" y2="243.90" stroke="#2b2b2b" stroke-width="1.15"/>
<line x1="361.80" y1="249.50" x2="361.80" y2="286.80" stroke="#2b2b2b" stroke-width="1.15"/>
<line x1="359.20" y1="249.50" x2="364.40" y2="249.50" stroke="#2b2b2b" stroke-width="1.15"/>
<line x1="361.30" y1="286.30" x2="481.30" y2="286.30" stroke="#2b2b2b" stroke-width="1.15"/>
<line x1="358.80" y1="207.20" x2="361.80" y2="207.20" stroke="#2b2b2b" stroke-width="1.15"/>
<text x="356.9" y="209.80" font-size="7.8" text-anchor="end" font-weight="normal" fill="#222" stroke="#222" stroke-width="0.12" >100</text>
<line x1="358.80" y1="226.50" x2="361.80" y2="226.50" stroke="#2b2b2b" stroke-width="1.15"/>
<text x="356.9" y="229.10" font-size="7.8" text-anchor="end" font-weight="normal" fill="#222" stroke="#222" stroke-width="0.12" >50</text>
<line x1="358.80" y1="249.50" x2="361.80" y2="249.50" stroke="#2b2b2b" stroke-width="1.15"/>
<text x="356.9" y="252.10" font-size="7.8" text-anchor="end" font-weight="normal" fill="#222" stroke="#222" stroke-width="0.12" >5.0</text>
<line x1="358.80" y1="268.00" x2="361.80" y2="268.00" stroke="#2b2b2b" stroke-width="1.15"/>
<text x="356.9" y="270.60" font-size="7.8" text-anchor="end" font-weight="normal" fill="#222" stroke="#222" stroke-width="0.12" >2.5</text>
<line x1="358.80" y1="286.30" x2="361.80" y2="286.30" stroke="#2b2b2b" stroke-width="1.15"/>
<text x="356.9" y="288.90" font-size="7.8" text-anchor="end" font-weight="normal" fill="#222" stroke="#222" stroke-width="0.12" >0</text>
<line x1="376.10" y1="286.30" x2="376.10" y2="289.30" stroke="#2b2b2b" stroke-width="1.15"/>
<text x="376.1" y="298.9" font-size="7.5" text-anchor="middle" font-weight="normal" fill="#222" stroke="#222" stroke-width="0.12" >Naive</text>
<line x1="406.40" y1="286.30" x2="406.40" y2="289.30" stroke="#2b2b2b" stroke-width="1.15"/>
<text x="406.4" y="298.9" font-size="7.5" text-anchor="middle" font-weight="normal" fill="#222" stroke="#222" stroke-width="0.12" >CM</text>
<line x1="436.70" y1="286.30" x2="436.70" y2="289.30" stroke="#2b2b2b" stroke-width="1.15"/>
<text x="436.7" y="298.9" font-size="7.5" text-anchor="middle" font-weight="normal" fill="#222" stroke="#222" stroke-width="0.12" >EM</text>
<line x1="467.10" y1="286.30" x2="467.10" y2="289.30" stroke="#2b2b2b" stroke-width="1.15"/>
<text x="467.1" y="298.9" font-size="7.5" text-anchor="middle" font-weight="normal" fill="#222" stroke="#222" stroke-width="0.12" >EMRA</text>
<rect x="365.65" y="262.15" width="4.10" height="23.90" fill="#7082ae" stroke="#5d6b98" stroke-width="0.5"/>
<line x1="367.70" y1="259.20" x2="367.70" y2="264.60" stroke="#3f5592" stroke-width="0.9"/>
<line x1="366.30" y1="259.20" x2="369.10" y2="259.20" stroke="#3f5592" stroke-width="0.9"/>
<rect x="374.05" y="254.75" width="4.10" height="31.30" fill="#9bc985" stroke="#7daa68" stroke-width="0.5"/>
<line x1="376.10" y1="253.00" x2="376.10" y2="256.00" stroke="#5a9e48" stroke-width="0.9"/>
<line x1="374.70" y1="253.00" x2="377.50" y2="253.00" stroke="#5a9e48" stroke-width="0.9"/>
<rect x="382.25" y="280.75" width="4.10" height="5.30" fill="#de6e65" stroke="#c8564f" stroke-width="0.5"/>
<line x1="384.30" y1="279.00" x2="384.30" y2="282.00" stroke="#c0383a" stroke-width="0.9"/>
<line x1="382.90" y1="279.00" x2="385.70" y2="279.00" stroke="#c0383a" stroke-width="0.9"/>
<rect x="395.95" y="249.75" width="4.10" height="36.30" fill="#7082ae" stroke="#5d6b98" stroke-width="0.5"/>
<rect x="395.95" y="217.55" width="4.10" height="26.10" fill="#7082ae" stroke="#5d6b98" stroke-width="0.5"/>
<line x1="398.00" y1="216.30" x2="398.00" y2="218.30" stroke="#3f5592" stroke-width="0.9"/>
<line x1="396.60" y1="216.30" x2="399.40" y2="216.30" stroke="#3f5592" stroke-width="0.9"/>
<rect x="404.35" y="249.75" width="4.10" height="36.30" fill="#9bc985" stroke="#7daa68" stroke-width="0.5"/>
<rect x="404.35" y="217.55" width="4.10" height="26.10" fill="#9bc985" stroke="#7daa68" stroke-width="0.5"/>
<line x1="406.40" y1="216.30" x2="406.40" y2="218.30" stroke="#5a9e48" stroke-width="0.9"/>
<line x1="405.00" y1="216.30" x2="407.80" y2="216.30" stroke="#5a9e48" stroke-width="0.9"/>
<rect x="412.55" y="249.75" width="4.10" height="36.30" fill="#de6e65" stroke="#c8564f" stroke-width="0.5"/>
<rect x="412.55" y="226.55" width="4.10" height="17.10" fill="#de6e65" stroke="#c8564f" stroke-width="0.5"/>
<line x1="414.60" y1="225.50" x2="414.60" y2="227.10" stroke="#c0383a" stroke-width="0.9"/>
<line x1="413.20" y1="225.50" x2="416.00" y2="225.50" stroke="#c0383a" stroke-width="0.9"/>
<rect x="426.25" y="249.75" width="4.10" height="36.30" fill="#7082ae" stroke="#5d6b98" stroke-width="0.5"/>
<rect x="426.25" y="239.85" width="4.10" height="3.80" fill="#7082ae" stroke="#5d6b98" stroke-width="0.5"/>
<line x1="428.30" y1="238.40" x2="428.30" y2="240.80" stroke="#3f5592" stroke-width="0.9"/>
<line x1="426.90" y1="238.40" x2="429.70" y2="238.40" stroke="#3f5592" stroke-width="0.9"/>
<rect x="434.65" y="249.75" width="4.10" height="36.30" fill="#9bc985" stroke="#7daa68" stroke-width="0.5"/>
<rect x="434.65" y="239.85" width="4.10" height="3.80" fill="#9bc985" stroke="#7daa68" stroke-width="0.5"/>
<line x1="436.70" y1="238.60" x2="436.70" y2="240.60" stroke="#5a9e48" stroke-width="0.9"/>
<line x1="435.30" y1="238.60" x2="438.10" y2="238.60" stroke="#5a9e48" stroke-width="0.9"/>
<rect x="442.85" y="249.75" width="4.10" height="36.30" fill="#de6e65" stroke="#c8564f" stroke-width="0.5"/>
<rect x="442.85" y="234.75" width="4.10" height="8.90" fill="#de6e65" stroke="#c8564f" stroke-width="0.5"/>
<line x1="444.90" y1="233.50" x2="444.90" y2="235.50" stroke="#c0383a" stroke-width="0.9"/>
<line x1="443.50" y1="233.50" x2="446.30" y2="233.50" stroke="#c0383a" stroke-width="0.9"/>
<rect x="456.65" y="275.45" width="4.10" height="10.60" fill="#7082ae" stroke="#5d6b98" stroke-width="0.5"/>
<line x1="458.70" y1="273.70" x2="458.70" y2="276.70" stroke="#3f5592" stroke-width="0.9"/>
<line x1="457.30" y1="273.70" x2="460.10" y2="273.70" stroke="#3f5592" stroke-width="0.9"/>
<rect x="465.05" y="273.55" width="4.10" height="12.50" fill="#9bc985" stroke="#7daa68" stroke-width="0.5"/>
<line x1="467.10" y1="271.30" x2="467.10" y2="275.30" stroke="#5a9e48" stroke-width="0.9"/>
<line x1="465.70" y1="271.30" x2="468.50" y2="271.30" stroke="#5a9e48" stroke-width="0.9"/>
<rect x="473.25" y="284.15" width="4.10" height="1.90" fill="#de6e65" stroke="#c8564f" stroke-width="0.5"/>
<line x1="475.30" y1="283.20" x2="475.30" y2="284.60" stroke="#c0383a" stroke-width="0.9"/>
<line x1="473.90" y1="283.20" x2="476.70" y2="283.20" stroke="#c0383a" stroke-width="0.9"/>
<line x1="369.10" y1="244.80" x2="383.70" y2="244.80" stroke="#3a3a3a" stroke-width="1.3"/>
<circle cx="373.70" cy="241.00" r="0.95" fill="#1e1e1e"/>
<circle cx="376.70" cy="241.00" r="0.95" fill="#1e1e1e"/>
<circle cx="379.70" cy="241.00" r="0.95" fill="#1e1e1e"/>
<line x1="375.20" y1="251.70" x2="384.60" y2="251.70" stroke="#3a3a3a" stroke-width="1.3"/>
<circle cx="376.90" cy="247.90" r="0.95" fill="#1e1e1e"/>
<circle cx="379.90" cy="247.90" r="0.95" fill="#1e1e1e"/>
<circle cx="382.90" cy="247.90" r="0.95" fill="#1e1e1e"/>
<line x1="396.60" y1="206.70" x2="418.00" y2="206.70" stroke="#3a3a3a" stroke-width="1.3"/>
<circle cx="404.50" cy="203.00" r="0.95" fill="#1e1e1e"/>
<circle cx="407.50" cy="203.00" r="0.95" fill="#1e1e1e"/>
<circle cx="410.50" cy="203.00" r="0.95" fill="#1e1e1e"/>
<line x1="406.70" y1="213.60" x2="418.00" y2="213.60" stroke="#3a3a3a" stroke-width="1.3"/>
<circle cx="409.30" cy="209.20" r="0.95" fill="#1e1e1e"/>
<circle cx="412.30" cy="209.20" r="0.95" fill="#1e1e1e"/>
<circle cx="415.30" cy="209.20" r="0.95" fill="#1e1e1e"/>
<line x1="424.90" y1="224.60" x2="446.20" y2="224.60" stroke="#3a3a3a" stroke-width="1.3"/>
<circle cx="432.90" cy="220.70" r="0.95" fill="#1e1e1e"/>
<circle cx="435.90" cy="220.70" r="0.95" fill="#1e1e1e"/>
<circle cx="438.90" cy="220.70" r="0.95" fill="#1e1e1e"/>
<line x1="434.40" y1="232.00" x2="445.10" y2="232.00" stroke="#3a3a3a" stroke-width="1.3"/>
<circle cx="436.40" cy="227.80" r="0.95" fill="#1e1e1e"/>
<circle cx="439.40" cy="227.80" r="0.95" fill="#1e1e1e"/>
<circle cx="442.40" cy="227.80" r="0.95" fill="#1e1e1e"/>
<line x1="456.00" y1="263.40" x2="478.10" y2="263.40" stroke="#3a3a3a" stroke-width="1.3"/>
<circle cx="463.70" cy="259.00" r="0.95" fill="#1e1e1e"/>
<circle cx="466.70" cy="259.00" r="0.95" fill="#1e1e1e"/>
<circle cx="469.70" cy="259.00" r="0.95" fill="#1e1e1e"/>
<line x1="467.10" y1="270.00" x2="477.30" y2="270.00" stroke="#3a3a3a" stroke-width="1.3"/>
<circle cx="468.90" cy="265.80" r="0.95" fill="#1e1e1e"/>
<circle cx="471.90" cy="265.80" r="0.95" fill="#1e1e1e"/>
<circle cx="474.90" cy="265.80" r="0.95" fill="#1e1e1e"/>
<rect x="459.00" y="202.00" width="5.00" height="5.00" fill="#7082ae" stroke="#56628f" stroke-width="0.6"/>
<text x="467.35" y="206.90" font-size="7.4" fill="#222" stroke="#222" stroke-width="0.12" textLength="9.40" lengthAdjust="spacingAndGlyphs">NT</text>
<rect x="459.00" y="213.30" width="5.00" height="5.00" fill="#9bc985" stroke="#6f9a62" stroke-width="0.6"/>
<text x="467.35" y="218.20" font-size="7.4" fill="#222" stroke="#222" stroke-width="0.12" textLength="22.50" lengthAdjust="spacingAndGlyphs">MOCK</text>
<rect x="459.00" y="224.50" width="5.00" height="5.00" fill="#de6e65" stroke="#b4524d" stroke-width="0.6"/>
<text x="467.35" y="229.40" font-size="7.4" fill="#222" stroke="#222" stroke-width="0.12" textLength="46.10" lengthAdjust="spacingAndGlyphs">SECTM1 CAR</text>
<text transform="translate(337.5,261.2) rotate(-90)" x="0" y="0" font-size="8.4" font-weight="normal" stroke="#222" stroke-width="0.2" textLength="28.7" lengthAdjust="spacingAndGlyphs" fill="#222">% of cells</text>
<rect x="0" y="0" width="520" height="1" fill="#6c6c6c"/>
<rect x="0" y="0" width="1" height="317" fill="#5c5c5c"/>
<rect x="519" y="0" width="1" height="317" fill="#606060"/>
<rect x="0" y="316" width="520" height="1" fill="#545454"/>
</svg>
</div>
</body></html>
